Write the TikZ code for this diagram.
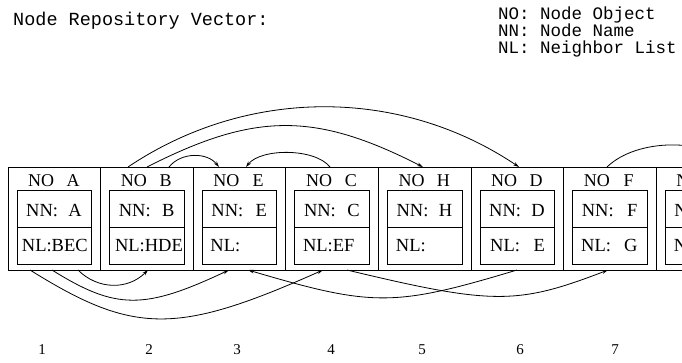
\documentclass[tikz,border=0pt]{standalone}
\usepackage{fontspec}
\setmainfont{Liberation Serif}
\newfontfamily\plotfont{Liberation Mono}
\usetikzlibrary{arrows.meta,calc}

% one slot of the repository vector:
% #1 name, #2 column, #3 node letter, #4 NL text, #5 NL left pad, #6 NL trailing letter
\newcommand\repcell[6]{%
  \node[cellbox] (#1) at (54.3+92.6*#2, 218.5) {};
  \node[fieldbox] (#1f) at ($(#1.north west)+(46.3,60.4)$) {};
  \draw[fieldline] (#1f.west) -- (#1f.east);
  \node[lbl] (#1no) at ($(#1.north west)+(20,19)$) {NO};
  \node[lbl,anchor=base] (#1nolet) at ($(#1.north west)+(65,19)$) {#3};
  \node[txt] (#1nn) at ($(#1.north west)+(18,49.7)$) {NN:};
  \node[txt,anchor=base east] (#1nnlet) at ($(#1.north west)+(74,49.7)$) {#3};
  \node[txt] (#1nl) at ($(#1.north west)+(#5,84.7)$) {#4};
  \if\relax\detokenize{#6}\relax\else
    \node[txt,anchor=base east] (#1nllet) at ($(#1.north west)+(74,84.7)$) {#6};
  \fi
}

\begin{document}
\begin{tikzpicture}[x=1pt,y=-1pt,
  cellbox/.style={draw,line width=1pt,minimum width=92.6pt,minimum height=103pt,inner sep=0pt,outer sep=0pt},
  fieldbox/.style={draw,line width=0.8pt,minimum width=74.5pt,minimum height=73.3pt,inner sep=0pt,outer sep=0pt},
  fieldline/.style={line width=0.8pt},
  lbl/.style={inner sep=0pt,anchor=base west,font=\fontsize{18}{21}\selectfont},
  txt/.style={inner sep=0pt,anchor=base west,font=\fontsize{18.5}{22}\selectfont},
  head/.style={inner sep=0pt,anchor=base west,font=\plotfont\fontsize{18.5}{22}\selectfont},
  key/.style={inner sep=0pt,anchor=base west,font=\plotfont\fontsize{17.5}{20}\selectfont},
  num/.style={inner sep=0pt,anchor=base,font=\fontsize{15}{18}\selectfont},
  link/.style={line width=0.8pt,-{Stealth[length=6pt,width=3.6pt]}}]
\useasboundingbox (0,0) rectangle (682,362);
\clip (0,0) rectangle (682,362);

% heading and legend
\node[head] (title) at (13,25.5) {Node Repository Vector:};
\node[key] (key1) at (498,19) {NO: Node Object};
\node[key] (key2) at (498,36) {NN: Node Name};
\node[key] (key3) at (498,53) {NL: Neighbor List};

% the vector slots
\repcell{A}{0}{A}{NL:BEC}{13.7}{}
\repcell{B}{1}{B}{NL:HDE}{14.2}{}
\repcell{E}{2}{E}{NL:}{17}{}
\repcell{C}{3}{C}{NL:EF}{17}{}
\repcell{H}{4}{H}{NL:}{17.3}{}
\repcell{D}{5}{D}{NL:}{19}{E}
\repcell{F}{6}{F}{NL:}{17.4}{G}
\repcell{G}{7}{G}{NL:}{17.4}{}

% neighbour links above the vector
\draw[link] ([xshift=27.4pt]B.north west) .. controls +(119,-80) and +(-119,-80) .. ([xshift=48pt]D.north west);
\draw[link] ([xshift=46.4pt]B.north west) .. controls +(108,-55) and +(-108,-55) .. ([xshift=44.6pt]H.north west);
\draw[link] ([xshift=68.4pt]B.north west) .. controls +(12,-15) and +(-12,-15) .. ([xshift=25.8pt]E.north west);
\draw[link] ([xshift=44.2pt]C.north west) .. controls +(-15,-19) and +(15,-19) .. ([xshift=52.8pt]E.north west);
\draw[link] ([xshift=43.4pt]F.north west) .. controls +(30,-29) and +(-30,-29) .. ([xshift=79pt]G.north west);

% neighbour links below the vector
\draw[link] ([xshift=70pt]A.south west) .. controls +(20,20) and +(-20,20) .. ([xshift=47.4pt]B.south west);
\draw[link] ([xshift=44pt]A.south west) .. controls +(64,40) and +(-85,40) .. ([xshift=35.8pt]E.south west);
\draw[link] ([xshift=22pt]A.south west) .. controls +(104,65) and +(-146,65) .. ([xshift=37.2pt]C.south west);
\draw[link] ([xshift=61.2pt]C.south west) .. controls +(146,35) and +(-91,35) .. ([xshift=44.4pt]F.south west);
\draw[link] ([xshift=46pt]D.south west) .. controls +(-123,37) and +(125,37) .. ([xshift=54.8pt]E.south west);

% slot numbers
\node[num] (n1) at (42,354) {1};
\node[num] (n2) at (149,354) {2};
\node[num] (n3) at (237,354) {3};
\node[num] (n4) at (331,354) {4};
\node[num] (n5) at (422,354) {5};
\node[num] (n6) at (520,354) {6};
\node[num] (n7) at (615,354) {7};
\end{tikzpicture}
\end{document}
